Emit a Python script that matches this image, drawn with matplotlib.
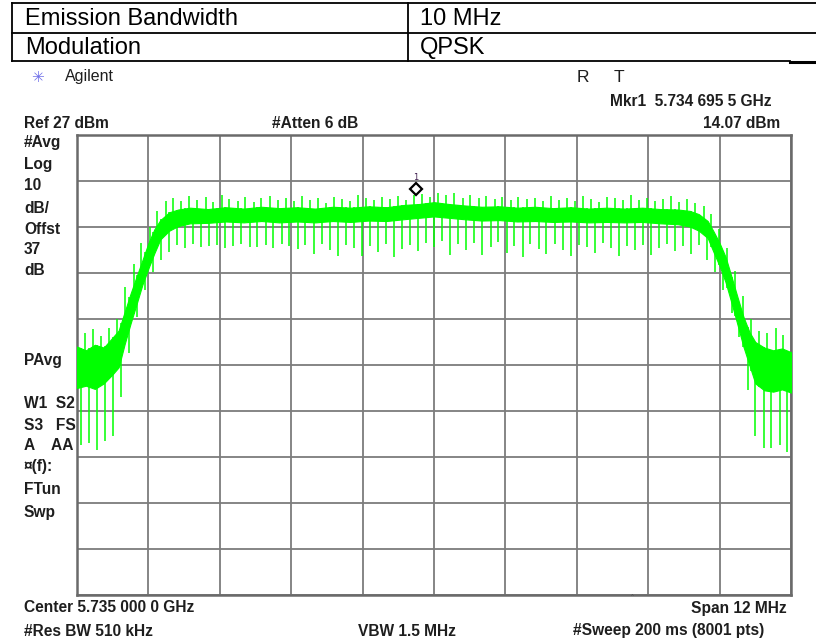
import matplotlib.pyplot as plt
import numpy as np
from matplotlib.lines import Line2D
from matplotlib import transforms

W, H = 816, 643

# sweep settings
center_ghz = 5.735
span_mhz = 12.0
ref_dbm = 27.0
db_per_div = 10.0

# trace envelope (offset from center in MHz, level in dBm)
env_mhz = [-6.00, -5.85, -5.70, -5.55, -5.40, -5.30, -5.20, -5.10, -5.00, -4.90,
           -4.80, -4.70, -4.60, -4.45, -4.30, -4.10, -3.80, -3.50, -3.20, -2.90,
           -2.60, -2.30, -2.00, -1.70, -1.40, -1.10, -0.80, -0.50, -0.25, 0.00,
           0.25, 0.50, 0.80, 1.10, 1.40, 1.70, 2.00, 2.30, 2.60, 2.90,
           3.20, 3.50, 3.80, 4.10, 4.30, 4.45, 4.60, 4.70, 4.80, 4.90,
           5.00, 5.10, 5.20, 5.30, 5.40, 5.55, 5.70, 5.85, 6.00]
env_hi = [-19.0, -19.8, -18.6, -19.2, -17.0, -15.5, -11.5, -7.5, -3.8, -0.2,
          3.5, 6.5, 8.5, 10.2, 10.8, 11.2, 10.9, 11.3, 11.0, 11.4,
          11.1, 11.3, 11.0, 11.4, 11.2, 11.5, 11.3, 11.8, 12.0, 12.4,
          12.0, 11.7, 11.4, 11.5, 11.2, 11.4, 11.1, 11.3, 11.0, 11.2,
          11.0, 11.2, 10.9, 10.8, 10.5, 9.8, 8.3, 6.0, 3.5, 0.5,
          -3.8, -8.2, -12.5, -15.8, -18.0, -19.2, -19.8, -19.4, -20.2]
env_lo = [-28.0, -27.5, -28.2, -27.0, -25.0, -23.5, -18.5, -14.0, -9.8, -5.5,
          -2.0, 1.3, 4.3, 6.2, 7.2, 7.8, 7.9, 8.2, 8.0, 8.3,
          8.0, 8.2, 8.0, 8.3, 8.1, 8.4, 8.3, 8.7, 9.0, 9.3,
          9.0, 8.7, 8.4, 8.5, 8.2, 8.3, 8.1, 8.2, 8.0, 8.1,
          8.0, 8.1, 7.8, 7.6, 7.1, 6.2, 4.6, 1.5, -1.5, -5.0,
          -9.5, -14.2, -19.0, -23.0, -27.0, -28.5, -28.8, -28.3, -29.0]

# downward notches
dip_mhz = [-5.93, -5.80, -5.66, -5.53, -5.39, -5.26, -5.12, -4.99, -4.85, -4.72, -4.58,
           -4.45, -4.32, -4.18, -4.05, -3.91, -3.78, -3.64, -3.51, -3.37, -3.24,
           -3.10, -2.97, -2.83, -2.70, -2.56, -2.43, -2.29, -2.16, -2.02, -1.89,
           -1.75, -1.62, -1.48, -1.35, -1.21, -1.08, -0.94, -0.81, -0.67, -0.54,
           -0.40, -0.27, -0.13, 0.00, 0.14, 0.27, 0.41, 0.54, 0.68, 0.81,
           0.95, 1.08, 1.22, 1.35, 1.49, 1.62, 1.76, 1.89, 2.03, 2.16,
           2.30, 2.43, 2.57, 2.70, 2.84, 2.97, 3.11, 3.24, 3.38, 3.51,
           3.65, 3.78, 3.92, 4.05, 4.19, 4.32, 4.46, 4.59,
           4.73, 4.86, 5.00, 5.13, 5.27, 5.40, 5.54, 5.67, 5.81, 5.94]
dip_dbm = [-40.4, -40.0, -41.5, -39.5, -38.5, -30.0, -20.4, -12.6, -6.7, -2.8, -0.2,
           1.6, 3.0, 2.5, 3.2, 2.6, 2.8, 3.1, 2.4, 2.9, 3.3,
           2.7, 2.6, 3.0, 2.5, 3.2, 2.8, 2.2, 3.0, 1.2, 3.4,
           2.0, 0.8, 3.1, 2.4, 0.6, 2.9, 1.5, 3.2, 0.4, 2.2,
           3.0, 1.8, 3.5, 2.6, 4.0, 1.0, 3.3, 2.1, 3.6, 0.9,
           2.7, 3.8, 1.4, 2.9, 0.5, 3.2, 2.3, 1.1, 3.4, 2.0,
           0.7, 3.0, 2.6, 1.3, 3.5, 2.4, 0.6, 2.8, 1.9, 3.1,
           1.0, 2.5, 3.3, 1.7, 2.9, 1.2, 3.0, -0.2,
           -2.8, -6.7, -11.7, -17.0, -28.4, -38.5, -41.0, -41.0, -40.4, -42.0]

# upward peaks
peak_mhz = [-5.86, -5.73, -5.59, -5.46, -5.32, -5.19, -5.05, -4.92, -4.78, -4.65, -4.51,
            -4.38, -4.25, -4.11, -3.98, -3.84, -3.71, -3.57, -3.44, -3.30, -3.17,
            -3.03, -2.90, -2.76, -2.63, -2.49, -2.36, -2.22, -2.09, -1.95, -1.82,
            -1.68, -1.55, -1.41, -1.28, -1.14, -1.01, -0.87, -0.74, -0.60, -0.47,
            -0.33, -0.20, -0.06, 0.07, 0.21, 0.34, 0.48, 0.61, 0.75, 0.88,
            1.02, 1.15, 1.29, 1.42, 1.56, 1.69, 1.83, 1.96, 2.10, 2.23,
            2.37, 2.50, 2.64, 2.77, 2.91, 3.04, 3.18, 3.31, 3.45, 3.58,
            3.72, 3.85, 3.99, 4.12, 4.26, 4.39, 4.53,
            4.66, 4.79, 4.93, 5.06, 5.20, 5.33, 5.47, 5.60, 5.74, 5.87]
peak_dbm = [-16.0, -15.2, -16.8, -15.0, -13.0, -6.0, -1.0, 3.5, 7.0, 10.5, 12.6,
            13.4, 12.6, 13.8, 12.9, 13.5, 12.4, 13.9, 13.1, 12.7, 13.6,
            12.5, 13.3, 13.8, 12.8, 13.2, 12.6, 13.7, 12.9, 13.4, 12.3,
            13.6, 13.0, 12.7, 13.9, 13.2, 12.8, 13.5, 13.1, 13.8, 12.9,
            14.0, 14.1, 13.6, 14.5, 13.9, 14.3, 13.4, 14.0, 13.2, 13.8,
            13.0, 13.5, 12.8, 13.6, 13.1, 13.4, 12.7, 13.7, 12.9, 13.3,
            12.6, 13.8, 13.0, 12.5, 13.6, 13.2, 12.8, 13.9, 12.9, 13.4,
            12.6, 13.1, 13.7, 12.4, 13.0, 12.2, 11.6,
            9.8, 6.5, 2.5, -2.5, -8.0, -13.0, -15.5, -16.0, -15.0, -16.5]

# marker 1
mkr_ghz = 5.7346955
mkr_dbm = 14.07

green = '#00ff00'
ink = '#1e1e1e'
grid_col = '#7c7c7c'


def fpos(x, y):
    return x / W, 1 - y / H


fig = plt.figure(figsize=(W / 100, H / 100), dpi=100)

# parameter table
tbl = dict(color='black', lw=1.3)
fig.add_artist(Line2D([12 / W, 1], [1 - 3 / H] * 2, **tbl))
fig.add_artist(Line2D([12 / W, 1], [1 - 33 / H] * 2, **tbl))
fig.add_artist(Line2D([12 / W, 790 / W], [1 - 61 / H] * 2, **tbl))
fig.add_artist(Line2D([790 / W, 1], [1 - 62 / H] * 2, color='black', lw=2.2))
for xv in (12, 408):
    fig.add_artist(Line2D([xv / W] * 2, [1 - 3 / H, 1 - 61 / H], **tbl))
cell = dict(fontsize=17, family='Liberation Sans', va='center', color='black')
fig.text(*fpos(25, 19), 'Emission Bandwidth', **cell)
fig.text(*fpos(420, 19), '10 MHz', **cell)
fig.text(*fpos(25, 48), 'Modulation', **cell)
fig.text(*fpos(420, 48), 'QPSK', **cell)

# spectrum display
ax = fig.add_axes([77 / W, 1 - 595 / H, 714 / W, 460 / H])
ax.set_xlim(-span_mhz / 2, span_mhz / 2)
ax.set_ylim(ref_dbm - 10 * db_per_div, ref_dbm)
ax.set_xticks(np.linspace(-span_mhz / 2, span_mhz / 2, 11))
ax.set_yticks(np.linspace(ref_dbm - 10 * db_per_div, ref_dbm, 11))
ax.grid(True, color=grid_col, lw=1.3)
ax.tick_params(length=0, labelbottom=False, labelleft=False)
for s in ax.spines.values():
    s.set_color('#6a6a6a')
    s.set_linewidth(1.8)

ax.fill_between(env_mhz, env_lo, env_hi, color=green, lw=0.8, edgecolor=green, zorder=3)
dip_top = np.interp(dip_mhz, env_mhz, env_hi)
ax.vlines(dip_mhz, dip_dbm, dip_top, color=green, lw=1.1, zorder=3)
peak_base = np.interp(peak_mhz, env_mhz, env_lo)
ax.vlines(peak_mhz, peak_base, peak_dbm, color=green, lw=1.1, zorder=3)

mx = (mkr_ghz - center_ghz) * 1000
lift = transforms.offset_copy(ax.transData, fig=fig, x=0, y=5, units='dots')
ax.plot([mx], [mkr_dbm], marker='D', ms=6.5, mfc='white', mec='black', mew=1.6,
        transform=lift, zorder=5, clip_on=False)
ax.text(mx, mkr_dbm, '1', transform=transforms.offset_copy(ax.transData, fig=fig, x=0, y=17, units='dots'),
        ha='center', va='center', fontsize=6, color='#402050', zorder=5)

# annotation text around the display
lab = dict(fontsize=11.2, family='Liberation Sans', weight='bold', color=ink, va='center')
fig.text(*fpos(24, 124), 'Ref 27 dBm', **lab)
fig.text(*fpos(272, 124), '#Atten 6 dB', **lab)
fig.text(*fpos(610, 102), 'Mkr1  5.734 695 5 GHz', **lab)
fig.text(*fpos(780, 124), '14.07 dBm', ha='right', **lab)
side = [('#Avg', 143), ('Log', 164), ('10', 186), ('dB/', 208), ('Offst', 229),
        ('37', 250), ('dB', 271), ('PAvg', 361), ('W1  S2', 404), ('S3   FS', 425),
        ('A    AA', 446), ('\u00a4(f):', 467), ('FTun', 490), ('Swp', 512)]
for s, yy in side:
    fig.text(*fpos(24, yy), s, **lab)
fig.text(*fpos(24, 608), 'Center 5.735 000 0 GHz', **lab)
fig.text(*fpos(787, 608), 'Span 12 MHz', ha='right', **lab)
fig.text(*fpos(24, 631), '#Res BW 510 kHz', **lab)
fig.text(*fpos(358, 631), 'VBW 1.5 MHz', **lab)
fig.text(*fpos(573, 631), '#Sweep 200 ms (8001 pts)', **lab)
fig.text(*fpos(632, 600), '\u02c6', fontsize=7, color='#555555', ha='center', va='center')

fig.text(*fpos(38, 77), '\u2733', fontsize=11, color='#7070e8', ha='center', va='center',
         family='DejaVu Sans')
fig.text(*fpos(65, 77), 'Agilent', fontsize=11.5, family='Liberation Sans', color=ink, va='center')
fig.text(*fpos(577, 77), 'R', fontsize=12.5, family='Liberation Sans', color=ink, va='center')
fig.text(*fpos(614, 77), 'T', fontsize=12.5, family='Liberation Sans', color=ink, va='center')

fig.savefig('out.png', dpi=100)
